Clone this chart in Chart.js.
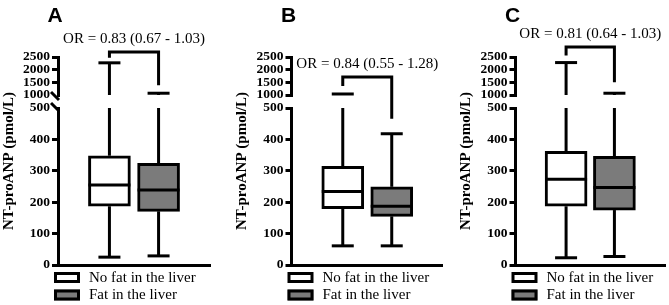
<!DOCTYPE html>
<html lang="en">
<head>
<meta charset="UTF-8">
<title>NT-proANP by liver fat</title>
<script src="https://cdn.jsdelivr.net/npm/chart.js"></script>
<style>
  body { margin: 0; background: #fff; }
  #wrap { position: relative; width: 669px; height: 305px; }
  #wrap canvas { position: absolute; left: 0; top: 0; }
</style>
</head>
<body>
<div id="wrap">
  <canvas id="chartA" width="669" height="305"></canvas>
  <canvas id="chartB" width="669" height="305"></canvas>
  <canvas id="chartC" width="669" height="305"></canvas>
</div>
<script>
const groups = ['No fat in the liver', 'Fat in the liver'];
const panelLetters = ['A', 'B', 'C'];
const oddsRatios = ['OR = 0.83 (0.67 - 1.03)', 'OR = 0.84 (0.55 - 1.28)', 'OR = 0.81 (0.64 - 1.03)'];
const groupColors = ['#ffffff', '#7b7b7b'];

// box plot summaries in pmol/L, [no fat, fat]
const minA = [25, 29],  q1A = [187, 171], medA = [255, 239], q3A = [348, 324], maxA = [2270, 1070];
const minB = [61, 61],  q1B = [179, 155], medB = [234, 187], q3B = [314, 249], maxB = [1040, 418];
const minC = [23, 27],  q1C = [187, 175], medC = [273, 247], q3C = [362, 346], maxC = [2280, 1070];

// broken y axis: lower and upper segments
const lowerRange = [0, 500], lowerStep = 100;
const upperRange = [1000, 2500], upperStep = 500;

const panels = [
    { id: 'chartA', min: minA, q1: q1A, med: medA, q3: q3A, max: maxA, axisX: 58, xEnd: 210, bracketTop: 52, legGap: [5, 8], slashes: true },
    { id: 'chartB', min: minB, q1: q1B, med: medB, q3: q3B, max: maxB, axisX: 291.5, xEnd: 443, bracketTop: 77, legGap: [8, 15], slashes: false },
    { id: 'chartC', min: minC, q1: q1C, med: medC, q3: q3C, max: maxC, axisX: 515.5, xEnd: 665, bracketTop: 47, legGap: [7, 11], slashes: false },
];

const serif = '"Liberation Serif", "Times New Roman", serif';
const AXIS_W = 40, BOX_W = 42, CAP_W = 22;

function line(ctx, x1, y1, x2, y2) {
    ctx.beginPath();
    ctx.moveTo(x1, y1);
    ctx.lineTo(x2, y2);
    ctx.stroke();
}

function makeExtras(p, idx) {
    return {
        id: 'boxExtras' + idx,
        beforeDatasetsDraw(chart) {
            const { ctx, scales } = chart;
            const lo = scales.yLow, hi = scales.yHigh;
            const yOf = v => v <= lo.max ? lo.getPixelForValue(v) : hi.getPixelForValue(v);
            ctx.save();
            ctx.strokeStyle = '#000';
            ctx.lineWidth = 3;
            p.min.forEach((_, i) => {
                const x = scales.x.getPixelForValue(i + 1);
                // lower whisker + cap
                line(ctx, x, yOf(p.min[i]), x, yOf(p.q1[i]));
                line(ctx, x - CAP_W / 2, yOf(p.min[i]), x + CAP_W / 2, yOf(p.min[i]));
                // upper whisker, split over the break
                if (p.max[i] > lo.max) {
                    line(ctx, x, yOf(p.q3[i]), x, lo.getPixelForValue(lo.max));
                    line(ctx, x, hi.getPixelForValue(hi.min), x, yOf(p.max[i]));
                } else {
                    line(ctx, x, yOf(p.q3[i]), x, yOf(p.max[i]));
                }
                line(ctx, x - CAP_W / 2, yOf(p.max[i]), x + CAP_W / 2, yOf(p.max[i]));
            });
            ctx.restore();
        },
        afterDatasetsDraw(chart) {
            const { ctx, scales } = chart;
            ctx.save();
            ctx.strokeStyle = '#000';
            ctx.lineWidth = 3;
            p.med.forEach((m, i) => {
                const x = scales.x.getPixelForValue(i + 1);
                const y = scales.yLow.getPixelForValue(m);
                line(ctx, x - BOX_W / 2, y, x + BOX_W / 2, y);
            });
            ctx.restore();
        },
        afterDraw(chart) {
            const { ctx, scales, chartArea } = chart;
            const lo = scales.yLow, hi = scales.yHigh;
            const left = chartArea.left;
            ctx.save();
            ctx.fillStyle = '#000';
            ctx.strokeStyle = '#000';
            ctx.lineWidth = 3;

            // significance bracket
            const x1 = scales.x.getPixelForValue(1), x2 = scales.x.getPixelForValue(2);
            const yOf = v => v <= lo.max ? lo.getPixelForValue(v) : hi.getPixelForValue(v);
            const top = p.bracketTop;
            ctx.beginPath();
            ctx.moveTo(x1, yOf(p.max[0]) - p.legGap[0]);
            ctx.lineTo(x1, top);
            ctx.lineTo(x2, top);
            ctx.lineTo(x2, yOf(p.max[1]) - p.legGap[1]);
            ctx.stroke();
            ctx.font = '15px ' + serif;
            ctx.textAlign = 'center';
            ctx.textBaseline = 'middle';
            ctx.fillText(oddsRatios[idx], (x1 + x2) / 2, top - 13);

            // panel letter
            ctx.font = 'bold 21px "Liberation Sans", Arial, sans-serif';
            ctx.fillText(panelLetters[idx], left - 3, 16);

            // y title
            ctx.save();
            ctx.translate(left - 49, (chartArea.top + chartArea.bottom) / 2);
            ctx.rotate(-Math.PI / 2);
            ctx.font = 'bold 15px ' + serif;
            ctx.fillText('NT-proANP (pmol/L)', 0, 0);
            ctx.restore();

            // axis break slashes
            if (p.slashes) {
                const ax = lo.right;
                [hi.getPixelForValue(hi.min) + 1, lo.getPixelForValue(lo.max) - 1].forEach(y => {
                    line(ctx, ax - 7, y - 4, ax + 1, y + 4);
                });
            }

            // legend
            ctx.textAlign = 'left';
            ctx.font = '15px ' + serif;
            groups.forEach((g, i) => {
                const y = 272 + i * 17.5;
                ctx.fillStyle = groupColors[i];
                ctx.fillRect(left - 4, y, 26, 11);
                ctx.strokeRect(left - 2.5, y + 1.5, 23, 8);
                ctx.fillStyle = '#000';
                ctx.fillText(g, left + 31, y + 6);
            });
            ctx.restore();
        }
    };
}

function yScale(range, step, weightInStack, order, hideEdge) {
    return {
        type: 'linear',
        position: 'left',
        stack: 'y',
        stackWeight: weightInStack,
        weight: order,
        min: range[0],
        max: range[1],
        afterFit: s => { s.width = AXIS_W; },
        ticks: {
            stepSize: step,
            autoSkip: false,
            color: '#000',
            padding: 2,
            font: { family: 'Liberation Serif', size: 13.5, weight: 'bold' },
            callback: v => String(v),
        },
        grid: {
            drawOnChartArea: false,
            drawTicks: true,
            tickLength: 6,
            lineWidth: 3,
            color: c => (hideEdge && c.tick && c.tick.value === hideEdge) ? 'rgba(0,0,0,0)' : '#000',
        },
        border: { display: true, color: '#000', width: 3 },
    };
}

panels.forEach((p, idx) => {
    new Chart(document.getElementById(p.id), {
        type: 'bar',
        data: {
            datasets: [{
                label: panelLetters[idx],
                yAxisID: 'yLow',
                data: groups.map((g, i) => ({ x: i + 1, y: [p.q1[i], p.q3[i]] })),
                backgroundColor: groupColors,
                borderColor: '#000',
                borderWidth: 3,
                borderSkipped: false,
                barThickness: BOX_W,
            }],
        },
        options: {
            responsive: false,
            animation: false,
            layout: { padding: { left: p.axisX - AXIS_W, right: 669 - p.xEnd, top: 57, bottom: 40 } },
            plugins: { legend: { display: false }, tooltip: { enabled: false } },
            scales: {
                x: {
                    type: 'linear',
                    min: 0.34,
                    max: 2.66,
                    afterFit: s => { s.height = 0; },
                    ticks: { display: false },
                    grid: { display: false, drawTicks: false },
                    border: { color: '#000', width: 3 },
                },
                yLow: yScale(lowerRange, lowerStep, 157, 1, p.slashes ? lowerRange[1] : null),
                yGap: { type: 'linear', position: 'left', stack: 'y', stackWeight: 13, weight: 2, display: false },
                yHigh: yScale(upperRange, upperStep, 38, 3, p.slashes ? upperRange[0] : null),
            },
        },
        plugins: [makeExtras(p, idx)],
    });
});
</script>
</body>
</html>
